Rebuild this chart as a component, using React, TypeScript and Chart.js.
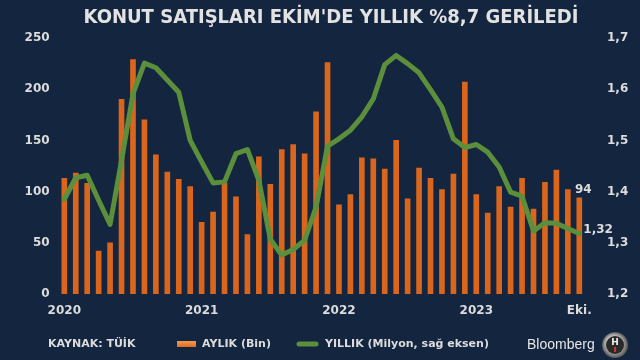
import React, { useEffect, useRef } from "react";
import { Chart, registerables } from "chart.js";

Chart.register(...registerables);

const months: string[] = [
  "Oca 20","Şub 20","Mar 20","Nis 20","May 20","Haz 20","Tem 20","Ağu 20","Eyl 20","Eki 20","Kas 20","Ara 20",
  "Oca 21","Şub 21","Mar 21","Nis 21","May 21","Haz 21","Tem 21","Ağu 21","Eyl 21","Eki 21","Kas 21","Ara 21",
  "Oca 22","Şub 22","Mar 22","Nis 22","May 22","Haz 22","Tem 22","Ağu 22","Eyl 22","Eki 22","Kas 22","Ara 22",
  "Oca 23","Şub 23","Mar 23","Nis 23","May 23","Haz 23","Tem 23","Ağu 23","Eyl 23","Eki 23",
];

const tickLabels: Record<number, string> = { 0: "2020", 12: "2021", 24: "2022", 36: "2023", 45: "Eki." };

const monthly: number[] = [
  113, 118, 108, 42, 50, 190, 229, 170, 136, 119, 112, 105,
  70, 80, 108, 95, 58, 134, 107, 141, 146, 137, 178, 226,
  87, 97, 133, 132, 122, 150, 93, 123, 113, 102, 117, 207,
  97, 79, 105, 85, 113, 83, 109, 121, 102, 94,
];

const annual: number[] = [
  1.385, 1.427, 1.432, 1.383, 1.336, 1.461, 1.591, 1.651, 1.642, 1.618, 1.594, 1.5,
  1.458, 1.417, 1.419, 1.474, 1.482, 1.422, 1.307, 1.276, 1.287, 1.305, 1.37, 1.489,
  1.503, 1.52, 1.546, 1.581, 1.648, 1.666, 1.65, 1.632, 1.599, 1.565, 1.503, 1.486,
  1.492, 1.477, 1.448, 1.399, 1.391, 1.323, 1.339, 1.338, 1.328, 1.318,
];

const TITLE = "KONUT SATIŞLARI EKİM'DE YILLIK %8,7 GERİLEDİ";
const BG = "#14253f";
const TEXT = "#dcdcdc";
const ORANGE = "#d9661c";
const GREEN = "#5b8f3b";
const FONT = "'DejaVu Sans', Verdana, sans-serif";

const decorPlugin = {
  id: "decor",
  beforeDraw(chart: any) {
    const ctx = chart.ctx;
    ctx.save();
    ctx.fillStyle = BG;
    ctx.fillRect(0, 0, chart.width, chart.height);
    ctx.restore();
  },
  afterDatasetsDraw(chart: any) {
    const ctx = chart.ctx;
    ctx.save();
    ctx.fillStyle = TEXT;
    ctx.font = `bold 12px ${FONT}`;
    ctx.textBaseline = "middle";
    const barMeta = chart.getDatasetMeta(1);
    const lb = barMeta.data[barMeta.data.length - 1];
    ctx.textAlign = "center";
    ctx.fillText(String(monthly[monthly.length - 1]), lb.x + 4, lb.y - 8);
    const lineMeta = chart.getDatasetMeta(0);
    const lp = lineMeta.data[lineMeta.data.length - 1];
    ctx.textAlign = "left";
    ctx.fillText(annual[annual.length - 1].toFixed(2).replace(".", ","), lp.x + 4, lp.y - 4);
    ctx.restore();
  },
  afterDraw(chart: any) {
    const ctx = chart.ctx;
    ctx.save();
    // title
    ctx.fillStyle = "#e2e2e2";
    ctx.font = `bold 20px ${FONT}`;
    ctx.textAlign = "center";
    ctx.textBaseline = "middle";
    ctx.fillText(TITLE, 331, 18, 495);
    // footer
    ctx.font = `bold 11px ${FONT}`;
    ctx.textAlign = "left";
    ctx.fillStyle = TEXT;
    ctx.fillText("KAYNAK: TÜİK", 48, 344, 88);
    // bar legend swatch
    const g = ctx.createLinearGradient(0, 341, 0, 348);
    g.addColorStop(0, "#f39a4c");
    g.addColorStop(1, ORANGE);
    ctx.fillStyle = g;
    ctx.fillRect(177, 341, 19, 6);
    ctx.fillStyle = TEXT;
    ctx.fillText("AYLIK (Bin)", 202, 344, 79);
    // line legend swatch
    ctx.strokeStyle = GREEN;
    ctx.lineWidth = 5;
    ctx.lineCap = "round";
    ctx.beginPath();
    ctx.moveTo(299, 344);
    ctx.lineTo(316, 344);
    ctx.stroke();
    ctx.fillText("YILLIK (Milyon, sağ eksen)", 325, 344, 174);
    // Bloomberg
    ctx.font = `14px 'Liberation Sans', Arial, sans-serif`;
    ctx.fillStyle = "#e6e6e6";
    ctx.fillText("Bloomberg", 527, 345, 71);
    // logo
    const cx = 615, cy = 345;
    const rg = ctx.createRadialGradient(cx - 3, cy - 4, 2, cx, cy, 13);
    rg.addColorStop(0, "#f2f2f2");
    rg.addColorStop(0.7, "#9a9a9a");
    rg.addColorStop(1, "#555");
    ctx.fillStyle = rg;
    ctx.beginPath();
    ctx.arc(cx, cy, 13, 0, Math.PI * 2);
    ctx.fill();
    ctx.fillStyle = "#2a2a2a";
    ctx.beginPath();
    ctx.arc(cx, cy, 9, 0, Math.PI * 2);
    ctx.fill();
    ctx.fillStyle = "#eeeeee";
    ctx.font = `bold 9px ${FONT}`;
    ctx.textAlign = "center";
    ctx.fillText("H", cx, cy - 2);
    ctx.fillStyle = "#c0392b";
    ctx.fillRect(cx - 1, cy + 2, 2, 5);
    ctx.restore();
  },
};

export default function App() {
  const ref = useRef<HTMLCanvasElement>(null);

  useEffect(() => {
    const canvas = ref.current;
    if (!canvas) return;
    const chart = new Chart(canvas, {
      type: "bar",
      data: {
        labels: months,
        datasets: [
          {
            type: "line",
            label: "YILLIK (Milyon, sağ eksen)",
            data: annual,
            yAxisID: "y1",
            borderColor: GREEN,
            borderWidth: 5,
            pointRadius: 0,
            tension: 0,
            borderJoinStyle: "round",
            borderCapStyle: "round",
            order: 0,
          } as any,
          {
            type: "bar",
            label: "AYLIK (Bin)",
            data: monthly,
            yAxisID: "y",
            backgroundColor: (c: any) => {
              const ch = c.chart;
              const area = ch.chartArea;
              if (!area) return ORANGE;
              const el = c.element;
              if (!el || el.x === undefined) return ORANGE;
              const gr = ch.ctx.createLinearGradient(el.x - 2.5, 0, el.x + 2.5, 0);
              gr.addColorStop(0, "#b8520f");
              gr.addColorStop(0.4, "#f08a3a");
              gr.addColorStop(1, "#b5500f");
              return gr;
            },
            barThickness: 5,
            order: 1,
          } as any,
        ],
      },
      options: {
        animation: false,
        responsive: false,
        maintainAspectRatio: false,
        layout: { padding: { top: 38, left: 0, right: 0, bottom: 0 } },
        plugins: {
          legend: { display: false },
          title: { display: false },
          tooltip: { enabled: false },
        },
        scales: {
          x: {
            grid: { display: false, drawTicks: false },
            border: { display: false },
            ticks: {
              color: TEXT,
              font: { family: FONT, size: 12, weight: "bold" },
              autoSkip: false,
              maxRotation: 0,
              minRotation: 0,
              padding: 10,
              callback: (_v: any, i: number) => tickLabels[i] ?? "",
            },
            afterFit: (s: any) => {
              s.height = 66;
            },
          },
          y: {
            position: "left",
            min: 0,
            max: 250,
            grid: { display: false, drawTicks: false },
            border: { display: false },
            ticks: {
              stepSize: 50,
              color: TEXT,
              font: { family: FONT, size: 12, weight: "bold" },
              padding: 9,
            },
            afterFit: (s: any) => {
              s.width = 58.6;
            },
          },
          y1: {
            position: "right",
            min: 1.2,
            max: 1.7,
            grid: { display: false, drawTicks: false },
            border: { display: false },
            ticks: {
              stepSize: 0.1,
              color: TEXT,
              font: { family: FONT, size: 12, weight: "bold" },
              padding: 22,
              callback: (v: any) => Number(v).toFixed(1).replace(".", ","),
            },
            afterFit: (s: any) => {
              s.width = 55;
            },
          },
        },
      },
      plugins: [decorPlugin],
    });
    return () => chart.destroy();
  }, []);

  return (
    <div style={{ position: "absolute", left: 0, top: 0, width: 640, height: 360, background: BG }}>
      <canvas ref={ref} width={640} height={360} style={{ display: "block", width: 640, height: 360 }} />
    </div>
  );
}
